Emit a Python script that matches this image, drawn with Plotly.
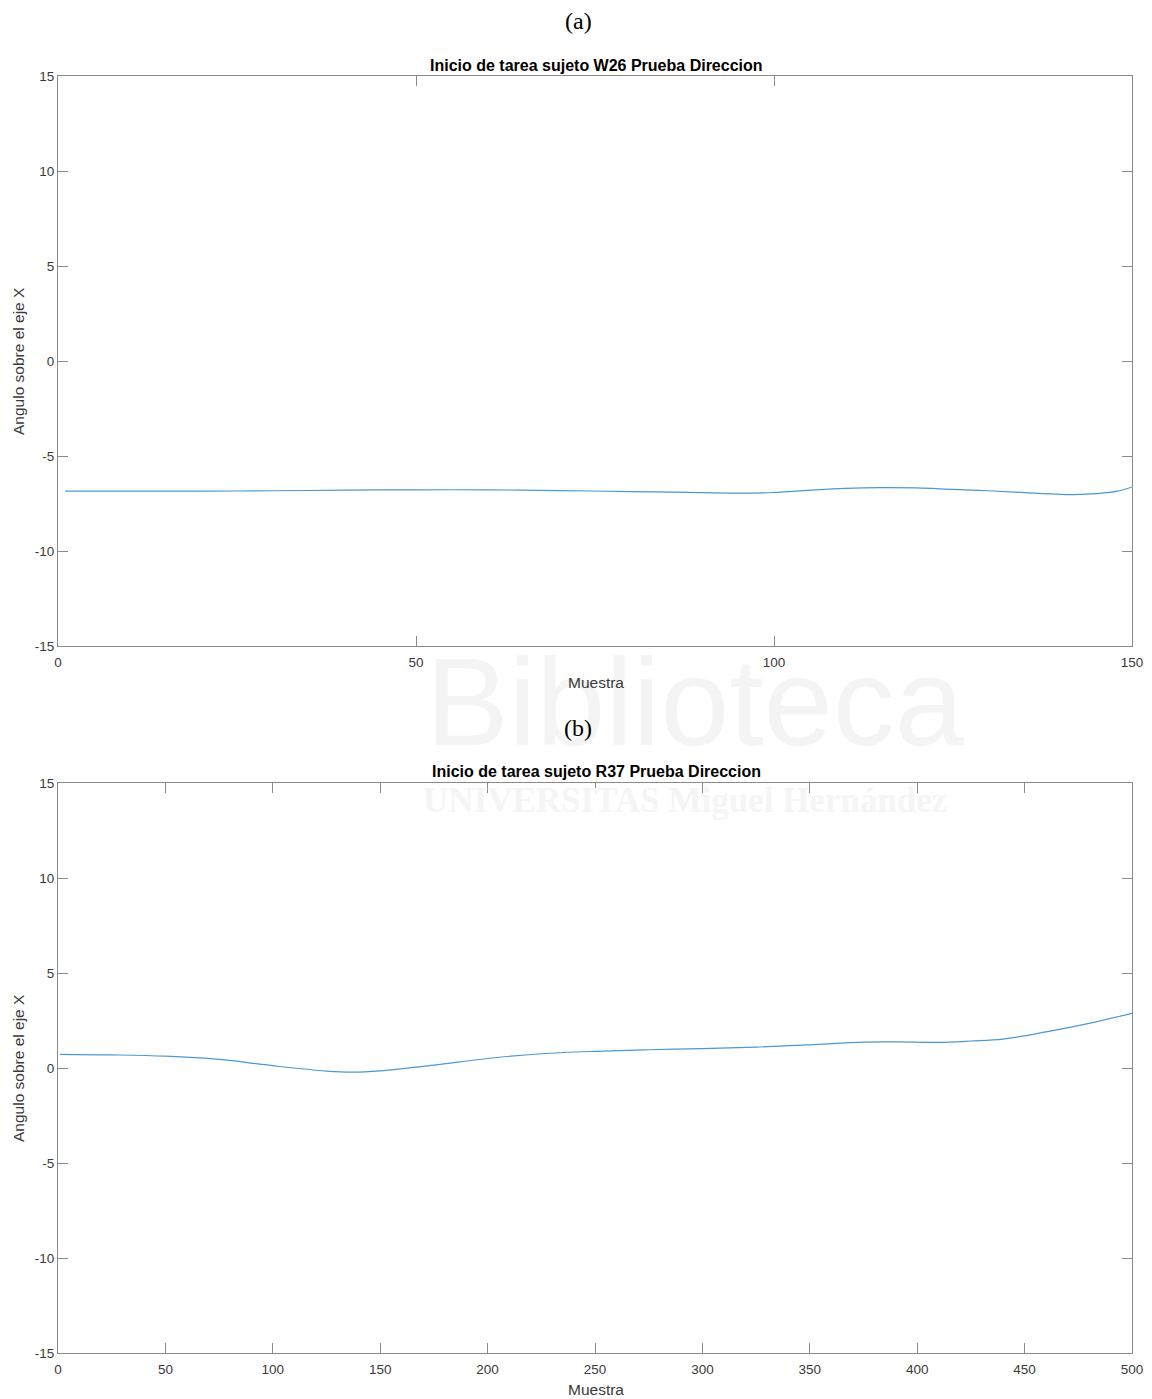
import plotly.graph_objects as go

# Panel (a): subject W26
muestra_a = [1, 10, 20, 30, 40, 50, 60, 70, 80, 90, 95, 100, 105, 110, 115, 120,
             125, 130, 135, 140, 142, 145, 148, 150]
angulo_a = [-6.85, -6.85, -6.85, -6.83, -6.80, -6.78, -6.78, -6.82, -6.87, -6.93, -6.95,
            -6.92, -6.80, -6.70, -6.66, -6.68, -6.76, -6.83, -6.93, -7.02, -7.03, -6.98,
            -6.85, -6.63]

# Panel (b): subject R37
muestra_b = [1, 25, 50, 75, 100, 125, 137, 150, 175, 200, 225, 250, 275, 300, 325, 350,
             375, 390, 410, 425, 440, 460, 480, 500]
angulo_b = [0.72, 0.69, 0.62, 0.45, 0.12, -0.16, -0.22, -0.15, 0.15, 0.50, 0.75, 0.88,
            0.96, 1.02, 1.10, 1.22, 1.36, 1.37, 1.35, 1.42, 1.52, 1.90, 2.35, 2.88]

titulo_a = "Inicio de tarea sujeto W26 Prueba Direccion"
titulo_b = "Inicio de tarea sujeto R37 Prueba Direccion"
xticks_a = [0, 50, 100, 150]
xticks_b = [0, 50, 100, 150, 200, 250, 300, 350, 400, 450, 500]
yticks = [-15, -10, -5, 0, 5, 10, 15]
ytick_labels = ["-15", "-10", "-5", "0", "5", "10", "15"]

W, H = 1152, 1399
LINE_COLOR = "#4a98d6"
AX_COLOR = "#8a8a8a"
TXT = "#3a3a3a"
SANS = "Liberation Sans, Arial, sans-serif"
SERIF = "Liberation Serif, Times New Roman, serif"


def px_x(v):
    return v / W


def px_y(v):
    return 1 - v / H


fig = go.Figure()
fig.add_trace(go.Scatter(x=muestra_a, y=angulo_a, mode="lines",
                         line=dict(color=LINE_COLOR, width=1.2, shape="spline", smoothing=1.0),
                         xaxis="x", yaxis="y", showlegend=False))
fig.add_trace(go.Scatter(x=muestra_b, y=angulo_b, mode="lines",
                         line=dict(color=LINE_COLOR, width=1.2, shape="spline", smoothing=1.0),
                         xaxis="x2", yaxis="y2", showlegend=False))

x_dom = [px_x(58), px_x(1132)]
common = dict(showgrid=False, zeroline=False, showline=True, linecolor=AX_COLOR, linewidth=1,
              mirror="ticks", ticks="inside", ticklen=10, tickcolor=AX_COLOR, tickwidth=1,
              automargin=False,
              tickfont=dict(family=SANS, size=13.5, color=TXT))
xcommon = dict(common, ticklabelstandoff=4)

fig.update_layout(
    width=W, height=H,
    margin=dict(l=0, r=0, t=0, b=0, autoexpand=False),
    paper_bgcolor="white", plot_bgcolor="white",
    xaxis=dict(domain=x_dom, range=[0, 150], tickvals=xticks_a, anchor="y", **xcommon),
    yaxis=dict(domain=[px_y(646), px_y(76)], range=[-15, 15], tickvals=yticks,
               ticktext=ytick_labels, anchor="x", **common),
    xaxis2=dict(domain=x_dom, range=[0, 500], tickvals=xticks_b, anchor="y2", **xcommon),
    yaxis2=dict(domain=[px_y(1353), px_y(783)], range=[-15, 15], tickvals=yticks,
                ticktext=ytick_labels, anchor="x2", **common),
)

texts = [
    # faint library watermark behind the figures
    dict(text="Biblioteca", x=695, y=702, size=124, color="#f4f4f4", family=SANS, bold=False),
    dict(text="UNIVERSITAS Miguel Hernández", x=685, y=800, size=35, color="#f5f5f5",
         family=SERIF, bold=True),
    # panel captions and titles
    dict(text="(a)", x=578, y=21, size=24, color="#000000", family=SERIF, bold=False),
    dict(text=titulo_a, x=596, y=65, size=16, color="#000000", family=SANS, bold=True),
    dict(text="Muestra", x=596, y=683, size=15.5, color=TXT, family=SANS, bold=False),
    dict(text="(b)", x=578, y=728, size=24, color="#000000", family=SERIF, bold=False),
    dict(text=titulo_b, x=596, y=771, size=16, color="#000000", family=SANS, bold=True),
    dict(text="Muestra", x=596, y=1389, size=15.5, color=TXT, family=SANS, bold=False),
]
for t in texts:
    label = f"<b>{t['text']}</b>" if t["bold"] else t["text"]
    fig.add_annotation(text=label, x=px_x(t["x"]), y=px_y(t["y"]), xref="paper", yref="paper",
                       xanchor="center", yanchor="middle", showarrow=False,
                       font=dict(family=t["family"], size=t["size"], color=t["color"]))

for yc in (361, 1068):
    fig.add_annotation(text="Angulo sobre el eje X", x=px_x(18), y=px_y(yc), xref="paper",
                       yref="paper", xanchor="center", yanchor="middle", showarrow=False,
                       textangle=-90, font=dict(family=SANS, size=15.5, color=TXT))

fig.write_html("out.html")
